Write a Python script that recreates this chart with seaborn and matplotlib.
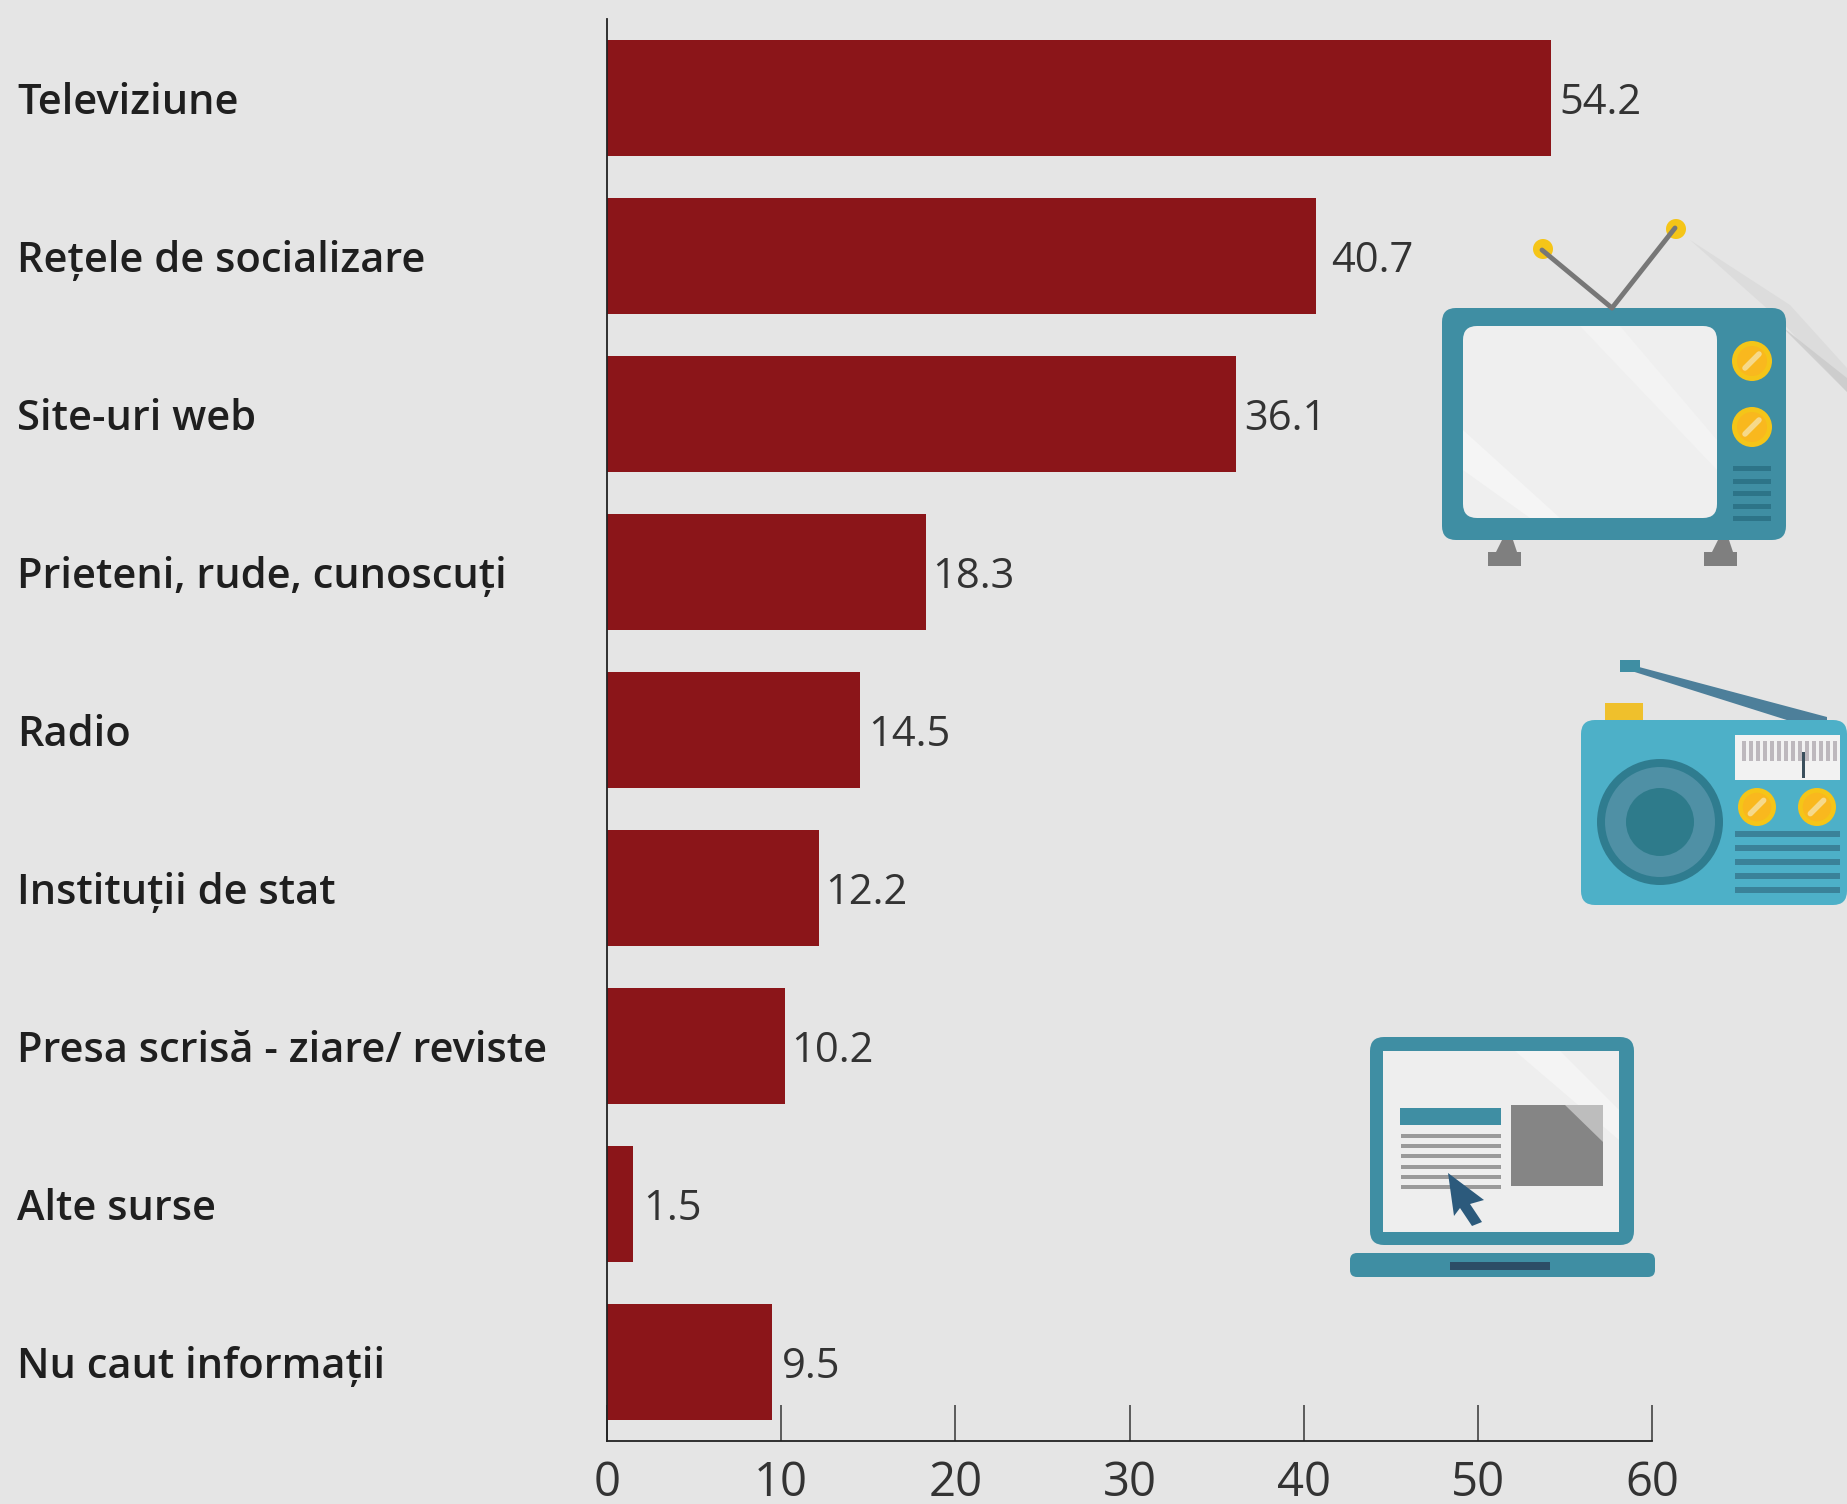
import matplotlib
matplotlib.use("Agg")
import matplotlib.pyplot as plt
from matplotlib.patches import Circle, FancyBboxPatch, Polygon, Rectangle
import pandas as pd
import seaborn as sns

categories = ["Televiziune", "Rețele de socializare", "Site-uri web",
              "Prieteni, rude, cunoscuți", "Radio", "Instituții de stat",
              "Presa scrisă - ziare/ reviste", "Alte surse", "Nu caut informații"]
values = [54.2, 40.7, 36.1, 18.3, 14.5, 12.2, 10.2, 1.5, 9.5]
x_ticks = [0, 10, 20, 30, 40, 50, 60]

W, H = 1847, 1504
BG = "#e5e5e5"
RED = "#8b1519"
TEAL = "#3f8ea3"
YELLOW = "#f5c518"
GRAY = "#7f7f7f"

sns.set_theme(style="white")
plt.rcParams["font.family"] = ["Open Sans", "DejaVu Sans"]

df = pd.DataFrame({"source": categories, "value": values})

fig = plt.figure(figsize=(W / 100, H / 100), dpi=100, facecolor=BG)

# decorative icons go on a full-figure layer in pixel coordinates
deco = fig.add_axes([0, 0, 1, 1], zorder=0)
deco.set_xlim(0, W)
deco.set_ylim(H, 0)
deco.axis("off")


def rbox(x0, y0, x1, y1, r, color):
    deco.add_patch(FancyBboxPatch((x0 + r, y0 + r), x1 - x0 - 2 * r, y1 - y0 - 2 * r,
                                  boxstyle=f"round,pad={r}", fc=color, ec="none"))


def rect(x0, y0, x1, y1, color, alpha=1):
    deco.add_patch(Rectangle((x0, y0), x1 - x0, y1 - y0, fc=color, ec="none", alpha=alpha))


def knob(x, y, r):
    deco.add_patch(Circle((x, y), r, fc=YELLOW, ec="none"))
    deco.add_patch(Circle((x, y), r * 0.75, fc="#f9b81e", ec="none"))
    deco.plot([x - r * 0.35, x + r * 0.35], [y + r * 0.35, y - r * 0.35], color="#f6d98a", lw=4)


# page curl, only a faint fold on the paper
deco.add_patch(Polygon([(1690, 240), (1790, 305), (1847, 368), (1847, 392), (1780, 320)],
                       fc="#dadada", ec="none", alpha=0.8))
deco.add_patch(Polygon([(1780, 325), (1847, 378), (1847, 392)], fc="#cacaca", ec="none", alpha=0.8))

# tv
deco.plot([1612, 1542], [308, 250], color="#777777", lw=3.5)
deco.plot([1612, 1675], [308, 228], color="#777777", lw=3.5)
deco.add_patch(Circle((1543, 249), 10, fc=YELLOW, ec="none"))
deco.add_patch(Circle((1676, 229), 10, fc=YELLOW, ec="none"))
for fx0, fx1 in [(1488, 1521), (1704, 1737)]:
    rect(fx0, 552, fx1, 566, GRAY)
    deco.add_patch(Polygon([(fx0 + 8, 552), (fx0 + 14, 540), (fx1 - 8, 540), (fx1 - 4, 552)], fc=GRAY, ec="none"))
rbox(1442, 308, 1786, 540, 14, TEAL)
rbox(1463, 326, 1717, 518, 14, "#efefef")
deco.add_patch(Polygon([(1580, 326), (1620, 326), (1717, 440), (1717, 470)], fc="#f3f3f3", ec="none"))
deco.add_patch(Polygon([(1463, 430), (1463, 470), (1530, 518), (1560, 518)], fc="#f5f5f5", ec="none"))
for ky in [361, 427]:
    knob(1752, ky, 20)
for vy in [468, 481, 493, 506, 518]:
    rect(1733, vy - 2.5, 1771, vy + 2.5, "#2d7488")

# radio
deco.add_patch(Polygon([(1622, 668), (1624, 663), (1827, 717), (1827, 721), (1790, 721)], fc="#4d7f9a", ec="none"))
rect(1620, 660, 1640, 672, "#3f8ea3")
rect(1605, 703, 1643, 722, "#efc02c")
rbox(1581, 720, 1847, 905, 14, "#4db0c8")
deco.add_patch(Circle((1660, 822), 63, fc="#2f7c8f", ec="none"))
deco.add_patch(Circle((1660, 822), 55, fc="#4f90a5", ec="none"))
deco.add_patch(Circle((1660, 822), 34, fc="#2e7b8b", ec="none"))
rect(1735, 735, 1840, 780, "#f2f2f2")
for tx in range(1742, 1836, 7):
    rect(tx, 741, tx + 4, 761, "#bdb8bd")
rect(1802, 752, 1805, 778, "#3a4f5c")
for kx in [1757, 1817]:
    knob(kx, 807, 19)
for vy in [834, 848, 862, 876, 890]:
    rect(1735, vy - 3, 1840, vy + 3, "#3a8299")

# laptop
rbox(1370, 1037, 1634, 1245, 14, TEAL)
rect(1383, 1051, 1619, 1232, "#eeeeee")
deco.add_patch(Polygon([(1515, 1051), (1560, 1051), (1619, 1110), (1619, 1140)], fc="#f4f4f4", ec="none"))
rect(1400, 1108, 1501, 1125, TEAL)
for ly in [1136, 1146, 1156, 1167, 1177, 1187]:
    rect(1401, ly - 2, 1501, ly + 2, "#9a9a9a")
rect(1511, 1105, 1603, 1186, "#858585")
deco.add_patch(Polygon([(1565, 1105), (1603, 1105), (1603, 1142)], fc="#bdbdbd", ec="none"))
deco.add_patch(Polygon([(1448, 1173), (1484, 1200), (1470, 1204), (1482, 1222), (1472, 1226),
                        (1460, 1208), (1454, 1216)], fc="#2c5a7c", ec="none"))
rbox(1350, 1253, 1655, 1277, 7, TEAL)
rect(1450, 1262, 1550, 1270, "#2c4d66")

ax = fig.add_axes([607 / W, 1 - 1441 / H, (1652 - 607) / W, (1441 - 19) / H], zorder=1)
ax.patch.set_alpha(0)

sns.barplot(data=df, x="value", y="source", orient="h", color=RED, saturation=1, width=0.73,
            edgecolor="none", linewidth=0, ax=ax)
ax.set_xlim(0, 60)
ax.set_ylim(8.5, -0.5)
ax.set_xlabel("")
ax.set_ylabel("")
ax.set_xticks(x_ticks)

sns.despine(ax=ax)
for side in ["left", "bottom"]:
    ax.spines[side].set_color("#222222")
    ax.spines[side].set_linewidth(1.3)

ax.tick_params(axis="x", bottom=True, direction="in", length=26, width=1.2, color="#444444",
               labelsize=34, labelcolor="#333333", pad=13)
ax.tick_params(axis="y", left=False, pad=418.5, labelsize=30, labelcolor="#1f1f1f")
for lab in ax.get_yticklabels():
    lab.set_ha("left")
    lab.set_va("center_baseline")
    lab.set_fontweight(600)

# value labels, gap to the bar varies a bit in the original
pads = [6, 11, 6, 5, 6, 4, 5, 7, 7]
for i, v in enumerate(values):
    ax.annotate(f"{v:.1f}", (v, i), xytext=(pads[i], 0), textcoords="offset points",
                va="center_baseline", ha="left", fontsize=30, color="#333333")

fig.savefig("out.png", dpi=100, facecolor=BG)
